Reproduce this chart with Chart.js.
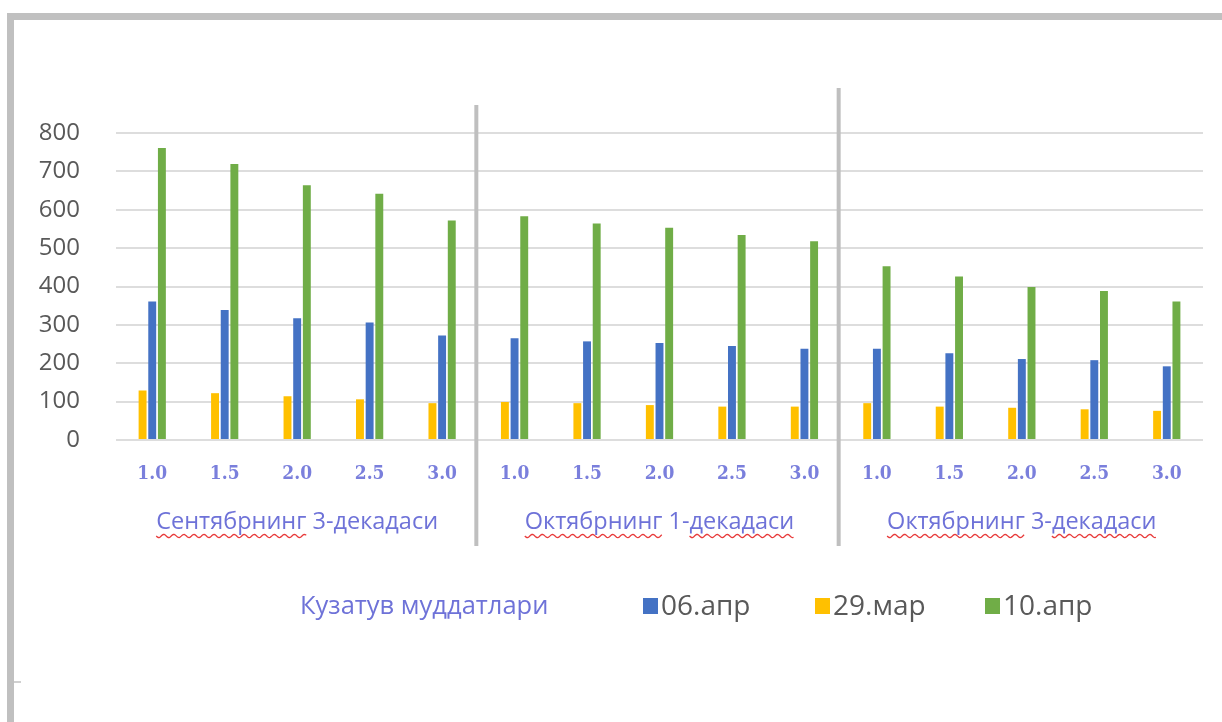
<!DOCTYPE html>
<html>
<head>
<meta charset="utf-8">
<script src="https://cdn.jsdelivr.net/npm/chart.js@4.4.1/dist/chart.umd.min.js"></script>
<style>
    html, body { margin: 0; padding: 0; background: #fff; }
    #frame {
        position: absolute; left: 7px; top: 13px; width: 1215px; height: 709px;
        border-top: 7px solid #c0c0c0; border-left: 7px solid #c0c0c0;
        box-sizing: border-box;
    }
    #nick { position: absolute; left: 14px; top: 681px; width: 7px; height: 2px; background: #d0d0d0; }
    #wrap { position: absolute; left: 0; top: 0; width: 1222px; height: 722px; }
</style>
</head>
<body>
<div id="frame"></div>
<div id="nick"></div>
<div id="wrap"><canvas id="chart" width="1222" height="722"></canvas></div>
<script>
// Chart data
const periods = ['1.0', '1.5', '2.0', '2.5', '3.0', '1.0', '1.5', '2.0', '2.5', '3.0', '1.0', '1.5', '2.0', '2.5', '3.0'];
const groupLabels = ['Сентябрнинг 3-декадаси', 'Октябрнинг 1-декадаси', 'Октябрнинг 3-декадаси'];
const axisTitle = 'Кузатув муддатлари';
const seriesNames = ['29.мар', '06.апр', '10.апр'];
const mar29 = [129, 122, 114, 106, 96, 99, 96, 91, 87, 87, 96, 87, 84, 80, 76];
const apr06 = [361, 339, 317, 306, 272, 265, 257, 253, 245, 238, 238, 226, 211, 208, 192];
const apr10 = [761, 719, 664, 642, 572, 583, 564, 553, 534, 518, 453, 426, 399, 388, 361];
const yTicks = [0, 100, 200, 300, 400, 500, 600, 700, 800];

const seriesColors = ['#FFC000', '#4472C4', '#70AD47'];
const legendOrder = [1, 0, 2];
const labelBlue = '#6E72D8';

// Separators between the decade groups, wavy underline and legend
const decorPlugin = {
    id: 'decor',
    afterDraw(chart, args, opts) {
        const ctx = chart.ctx;
        const x = chart.scales.x;
        const x2 = chart.scales.x2;

        // group separators
        ctx.save();
        ctx.strokeStyle = '#BFBFBF';
        ctx.lineWidth = 4;
        opts.separators.forEach(function(sep) {
            const px = (x.getPixelForTick(sep.after) + x.getPixelForTick(sep.after + 1)) / 2 - 2;
            ctx.beginPath();
            ctx.moveTo(px, sep.top);
            ctx.lineTo(px, opts.sepBottom);
            ctx.stroke();
        });
        ctx.restore();

        // red wavy underlines under the group labels
        ctx.save();
        ctx.font = opts.groupFont;
        ctx.strokeStyle = '#E83A3A';
        ctx.lineWidth = 1.3;
        groupLabels.forEach(function(label, i) {
            const cx = x2.getPixelForTick(i);
            const full = ctx.measureText(label).width;
            const left = cx - full / 2;
            const y = opts.waveY;
            opts.waveWords[i].forEach(function(word) {
                const start = label.indexOf(word);
                const wx = left + ctx.measureText(label.slice(0, start)).width;
                const ww = ctx.measureText(word).width;
                ctx.beginPath();
                for (let k = 0; k <= ww; k += 1) {
                    const yy = y + Math.sin(k / 1.6) * 1.6;
                    if (k === 0) ctx.moveTo(wx + k, yy); else ctx.lineTo(wx + k, yy);
                }
                ctx.stroke();
            });
        });
        ctx.restore();

        // legend row
        ctx.save();
        ctx.textBaseline = 'middle';
        ctx.font = opts.titleFont;
        ctx.fillStyle = labelBlue;
        ctx.fillText(axisTitle, opts.titleX, opts.legendY);
        ctx.font = opts.legendFont;
        legendOrder.forEach(function(di, k) {
            const ds = chart.data.datasets[di];
            const bx = opts.itemX[k];
            ctx.fillStyle = ds.backgroundColor;
            ctx.fillRect(bx, opts.legendY - 9, 15, 16);
            ctx.fillStyle = '#595959';
            ctx.fillText(ds.label, bx + 18, opts.legendY);
        });
        ctx.restore();
    }
};

const ctx = document.getElementById('chart').getContext('2d');
const chart = new Chart(ctx, {
    type: 'bar',
    data: {
        labels: periods,
        datasets: [mar29, apr06, apr10].map(function(values, i) {
            return {
                label: seriesNames[i],
                data: values,
                backgroundColor: seriesColors[i],
                borderWidth: 0,
                categoryPercentage: 0.40,
                barPercentage: 0.82
            };
        })
    },
    options: {
        responsive: false,
        animation: false,
        devicePixelRatio: 1,
        layout: { padding: { left: 37, right: 19, top: 133, bottom: 178 } },
        plugins: {
            legend: { display: false },
            tooltip: { enabled: false },
            decor: {
                separators: [{ after: 4, top: 105 }, { after: 9, top: 88 }],
                sepBottom: 546,
                groupFont: '23.5px "Open Sans"',
                waveY: 536,
                waveWords: [['Сентябрнинг'], ['Октябрнинг', 'декадаси'], ['Октябрнинг', 'декадаси']],
                titleFont: '25.5px "Open Sans"',
                titleX: 300,
                legendY: 607,
                legendFont: '28px "Open Sans"',
                itemX: [643, 815, 985]
            }
        },
        scales: {
            x: {
                position: 'bottom',
                grid: { display: false, drawTicks: false },
                border: { display: false },
                ticks: {
                    padding: 23,
                    color: '#7A7FDC',
                    font: { family: '"DejaVu Serif Condensed", "DejaVu Sans Condensed", serif', size: 19, weight: 'bold' }
                },
                afterFit: function(axis) { axis.height = 44; }
            },
            x2: {
                type: 'category',
                labels: groupLabels,
                position: 'bottom',
                offset: true,
                grid: { display: false, drawTicks: false },
                border: { display: false },
                ticks: {
                    padding: 24,
                    color: labelBlue,
                    font: { family: '"Open Sans"', size: 23.5 }
                },
                afterFit: function(axis) { axis.height = 60; }
            },
            y: {
                min: 0,
                max: 800,
                afterBuildTicks: function(axis) {
                    axis.ticks = yTicks.map(function(v) { return { value: v }; });
                },
                grid: { color: '#DDDDDD', lineWidth: 2, drawTicks: false },
                border: { display: false },
                ticks: {
                    padding: 36,
                    color: '#595959',
                    font: { family: '"Open Sans"', size: 24 }
                },
                afterFit: function(axis) { axis.width = 79; }
            }
        }
    },
    plugins: [decorPlugin]
});
</script>
</body>
</html>
